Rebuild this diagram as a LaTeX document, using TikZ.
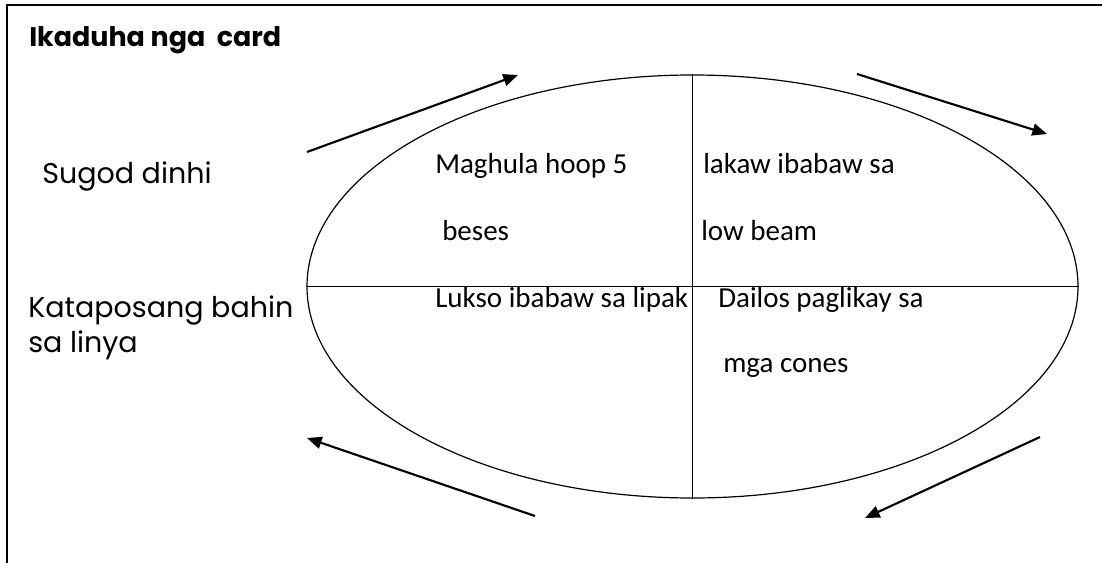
\documentclass[tikz,border=0pt]{standalone}
\usepackage{fontspec}
\setmainfont{Carlito}
\newfontfamily\gothic{Poppins}
\usepackage{tikz}
\usetikzlibrary{
	arrows.meta,
	shapes.geometric,
	positioning,
	}

\tikzset{
	cell/.style={inner sep=0pt, anchor=base west, font=\fontsize{21.75}{26}\selectfont},
	side/.style={inner sep=0pt, anchor=base west, font=\gothic\fontsize{21.4}{26}\selectfont},
	flow/.style={line width=1.6pt, -{Triangle[length=11pt,width=9pt]}},
}

\begin{document}
\begin{tikzpicture}[x=0.75pt, y=-0.75pt]
			\useasboundingbox (0,0) rectangle (1102,563);
			% card frame (top and left only)
			\draw[line width=1.5pt] (7,563) -- (7,5) -- (1102,5);

			\node[inner sep=0pt, anchor=base west, font=\gothic\bfseries\fontsize{20.2}{24}\selectfont] (title) at (29,47) {Ikaduha nga\ \ card};
			\node[side] (start) at (42,183) {Sugod dinhi};
			\node[side] (end1) at (28,317) {Kataposang bahin};
			\node[side] (end2) at (28,352) {sa linya};

			% the oval track
			\node[draw, ellipse, line width=0.9pt, minimum width=578.25pt, minimum height=317.25pt, inner sep=0pt] (oval) at (692.5,286.5) {};
			\draw[line width=0.9pt] (oval.north) -- (oval.south);
			\draw[line width=0.9pt] (oval.west) -- (oval.east);

			\node[cell] (hoop1) at (435,173) {Maghula hoop 5};
			\node[cell] (hoop2) at (442,240) {beses};
			\node[cell] (beam1) at (703,173) {lakaw ibabaw sa};
			\node[cell] (beam2) at (701,240) {low beam};
			\node[cell] (jump) at (435,307) {Lukso ibabaw sa lipak};
			\node[cell] (cone1) at (718,307) {Dailos paglikay sa};
			\node[cell] (cone2) at (723,372) {mga cones};

			\coordinate (a1) at (307,152);
			\coordinate (b1) at (518,75);
			\coordinate (a2) at (857,74);
			\coordinate (b2) at (1047,134);
			\coordinate (a3) at (1040,437);
			\coordinate (b3) at (865,518);
			\coordinate (a4) at (535,516);
			\coordinate (b4) at (307,438);

			\draw[flow] (a1) -- (b1);
			\draw[flow] (a2) -- (b2);
			\draw[flow] (a3) -- (b3);
			\draw[flow] (a4) -- (b4);

		\end{tikzpicture}
\end{document}
